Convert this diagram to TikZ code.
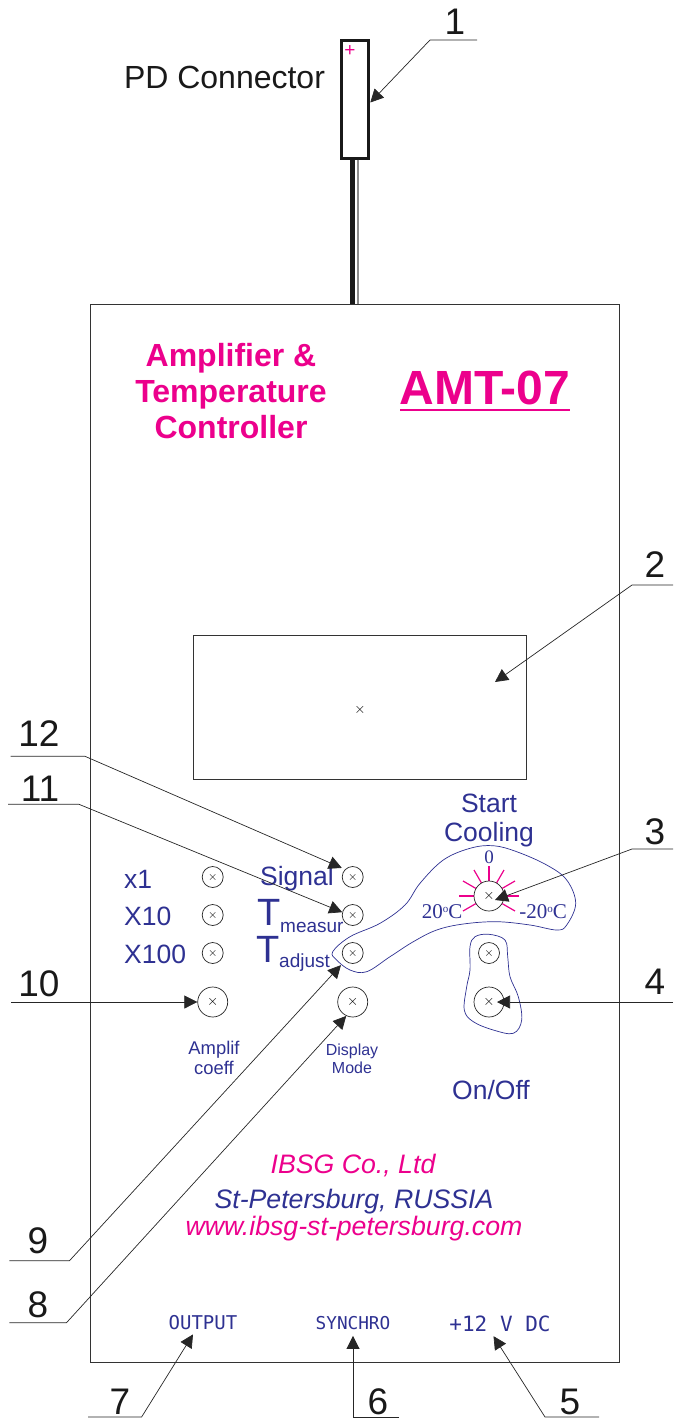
\documentclass[tikz,border=0pt]{standalone}
\usepackage{fontspec}
\setmainfont{Liberation Sans}
\newfontfamily\timesfont{Liberation Serif}
\newfontfamily\portfont{DejaVu Sans Mono}
\usetikzlibrary{arrows.meta, positioning}

\definecolor{panelblue}{HTML}{2E3192}
\definecolor{panelpink}{HTML}{EC008C}

\newcommand{\fsz}[1]{\fontsize{#1}{#1}\selectfont}
\newcommand{\degsign}{{\fsz{11}\raisebox{6pt}{o}}}

\tikzset{
    panelline/.style={draw=black!80, line width=0.9pt},
    leader/.style={draw=black!85, line width=0.7pt, -{Triangle[length=13pt,width=13pt]}},
    numlabel/.style={inner sep=0pt, text=black!90, font=\fsz{37}},
    bluetext/.style={inner sep=0pt, text=panelblue},
    pinktext/.style={inner sep=0pt, text=panelpink},
    knob/.style={circle, draw=black!85, line width=0.7pt, fill=white, inner sep=0pt, minimum size=30pt, font=\fsz{15}},
    smallknob/.style={knob, minimum size=21pt, font=\fsz{12}},
    blob/.style={draw=panelblue, line width=0.7pt},
    ray/.style={draw=panelpink, line width=1.2pt},
}

\begin{document}
\begin{tikzpicture}[x=1pt, y=-1pt]

\useasboundingbox (0,0) rectangle (673,1421);

% case and connector
\node[panelline, inner sep=0pt, minimum width=529pt, minimum height=1058pt] (panel) at (354.5,833) {};
\node[draw=black!90, line width=3pt, inner sep=0pt, minimum width=27pt, minimum height=117pt] (pdConn) at (355.3,99.5) {};
\node[pinktext, font=\fsz{19}] (pdPlus) at (350,51) {+};
\draw[black!90, line width=5pt] ([xshift=-3pt]pdConn.south) -- ([xshift=-3pt]pdConn.south |- panel.north);
\draw[black!45, line width=2pt] ([xshift=2.7pt]pdConn.south) -- ([xshift=2.7pt]pdConn.south |- panel.north);
\node[inner sep=0pt, text=black!90, font=\fsz{32}] (pdText) at (224.5,77) {PD Connector};

% titles
\node[pinktext, align=center, font=\bfseries\fontsize{32}{36}\selectfont] (titleText) at (231,391) {Amplifier \&\\Temperature\\Controller};
\node[pinktext, font=\bfseries\fsz{48}] (modelText) at (485,388) {AMT-07};
\draw[panelpink, line width=2pt] (400,410) -- (570,410);

% display
\node[panelline, inner sep=0pt, minimum width=333pt, minimum height=144pt] (display) at (359.5,707) {};
\node[inner sep=0pt, font=\fsz{15}] (displayCross) at (360,710) {$\times$};

% blue outlines
\draw[blob] plot[smooth cycle, tension=0.6] coordinates {
    (332.7,951.7) (350,936.7) (380,923.3) (405,905) (420,883.3) (443.3,860) (470,848.3) (493.3,845.7) (516.7,851.7)
    (546.7,865) (566.7,880) (575.7,903.3) (566.7,925) (556.7,930) (530,925) (496.7,921.7) (463.3,924) (436.7,930)
    (413.3,941.7) (390,956.7) (366.7,971.7) (350,970) (336.7,960)};
\draw[blob] plot[smooth cycle, tension=0.6] coordinates {
    (489,934.3) (505,940) (507.7,956.7) (510,976.7) (518.3,996.7) (521.7,1020) (513.3,1033.3) (493.3,1030) (473.3,1021.7)
    (464.3,1010) (466.7,986.7) (470,970) (470,946.7) (475,936.7)};

% rays of the cooling knob
\foreach \rayangle in {-30,0,30,60,90,120,150,180,210}
    \draw[ray] (489,896) ++(\rayangle:14pt) -- ++(\rayangle:16pt);

% knobs
\node[smallknob] (knobOne) at (212.7,877) {$\times$};
\node[smallknob] (knobTen) at (212.7,915) {$\times$};
\node[smallknob] (knobHundred) at (212.7,953) {$\times$};
\node[knob] (knobAmplif) at (212.7,1002) {$\times$};
\node[smallknob] (knobSignal) at (352.7,877) {$\times$};
\node[smallknob] (knobMeasur) at (352.7,915) {$\times$};
\node[smallknob] (knobAdjust) at (352.7,953) {$\times$};
\node[knob] (knobDisplay) at (352.7,1002) {$\times$};
\node[knob] (knobCool) at (489,896) {$\times$};
\node[smallknob] (knobLed) at (489,953) {$\times$};
\node[knob] (knobPower) at (489,1002) {$\times$};

% panel labels
\node[bluetext, align=center, font=\fontsize{26.5}{29}\selectfont] (coolText) at (489,820) {Start\\Cooling};
\node[bluetext, font=\timesfont\fsz{19}] (zeroText) at (489,857) {0};
\node[bluetext, font=\timesfont\fsz{21}] (plusText) at (442,912) {20\degsign C};
\node[bluetext, font=\timesfont\fsz{21}] (minusText) at (543,912) {-20\degsign C};
\node[bluetext, anchor=west, font=\fsz{26.5}] (oneText) at (124,879) {x1};
\node[bluetext, anchor=west, font=\fsz{26.5}] (tenText) at (124,916) {X10};
\node[bluetext, anchor=west, font=\fsz{26.5}] (hundredText) at (124,954) {X100};
\node[bluetext, font=\fsz{26.5}] (signalText) at (297,878.5) {Signal};
\node[bluetext, font=\fsz{38}] (measurT) at (269,912) {T};
\node[bluetext, anchor=west, font=\fsz{19}] (measurText) at (280,927) {measur};
\node[bluetext, font=\fsz{38}] (adjustT) at (268,949) {T};
\node[bluetext, anchor=west, font=\fsz{19}] (adjustText) at (279,963) {adjust};
\node[bluetext, align=center, font=\fontsize{18.4}{20}\selectfont] (amplifText) at (214,1058) {Amplif\\coeff};
\node[bluetext, align=center, font=\fontsize{16}{18}\selectfont] (displayText) at (352,1059) {Display\\Mode};
\node[bluetext, font=\fsz{26.5}] (powerText) at (491,1090) {On/Off};
\node[pinktext, font=\itshape\fsz{26.7}] (firmText) at (353,1166) {IBSG Co., Ltd};
\node[bluetext, font=\itshape\fsz{26.7}] (cityText) at (354,1202) {St-Petersburg, RUSSIA};
\node[pinktext, font=\itshape\fsz{26.7}] (webText) at (354,1229) {www.ibsg-st-petersburg.com};
\node[bluetext, font=\portfont\fsz{19}] (outputText) at (203,1323) {OUTPUT};
\node[bluetext, font=\portfont\fsz{17.7}] (synchroText) at (353,1323) {SYNCHRO};
\node[bluetext, font=\portfont\fsz{21}] (supplyText) at (500,1324) {+12 V DC};

% numbers
\node[numlabel] (numOne) at (455,22) {1};
\node[numlabel] (numTwo) at (655,565) {2};
\node[numlabel] (numThree) at (655,832) {3};
\node[numlabel] (numFour) at (655,982) {4};
\node[numlabel] (numFive) at (570,1402) {5};
\node[numlabel] (numSix) at (378,1402) {6};
\node[numlabel] (numSeven) at (120,1402) {7};
\node[numlabel] (numEight) at (38,1305) {8};
\node[numlabel] (numNine) at (38,1241) {9};
\node[numlabel] (numTen) at (39,984) {10};
\node[numlabel] (numEleven) at (40,789) {11};
\node[numlabel] (numTwelve) at (39,734) {12};

% free ends of the leaders
\coordinate (endOne) at (477,40);
\coordinate (elbowOne) at (430,40);
\coordinate (endTwo) at (673,585);
\coordinate (elbowTwo) at (632,585);
\coordinate (tipTwo) at (495,682);
\coordinate (endThree) at (673,849);
\coordinate (elbowThree) at (632,849);
\coordinate (tipThree) at (495,900);
\coordinate (endFour) at (673,1002);
\coordinate (endFive) at (599,1417);
\coordinate (elbowFive) at (545,1417);
\coordinate (endSix) at (399,1417);
\coordinate (elbowSix) at (353,1417);
\coordinate (endSeven) at (88,1417);
\coordinate (elbowSeven) at (141.6,1417);
\coordinate (endEight) at (9.4,1322.7);
\coordinate (elbowEight) at (66.5,1322.7);
\coordinate (endNine) at (9.4,1260.7);
\coordinate (elbowNine) at (69.5,1260.7);
\coordinate (endTen) at (11,1002);
\coordinate (endEleven) at (8,804.3);
\coordinate (elbowEleven) at (79,804.3);
\coordinate (endTwelve) at (10.7,756.3);
\coordinate (elbowTwelve) at (85,756.3);

% leaders
\draw[leader] (endOne) -- (elbowOne) -- ([yshift=-3pt]pdConn.east);
\draw[leader] (endTwo) -- (elbowTwo) -- (tipTwo);
\draw[leader] (endThree) -- (elbowThree) -- (tipThree);
\draw[leader, shorten >=8pt] (endFour) -- (knobPower.center);
\draw[leader] (endFive) -- (elbowFive) -- ([xshift=-6.5pt,yshift=-4pt]supplyText.south);
\draw[leader] (endSix) -- (elbowSix) -- ([yshift=-6pt]synchroText.south);
\draw[leader] (endSeven) -- (elbowSeven) -- ([xshift=-10pt,yshift=-4pt]outputText.south);
\draw[leader] (endEight) -- (elbowEight) -- (knobDisplay.245);
\draw[leader, shorten >=6pt] (endNine) -- (elbowNine) -- (knobAdjust.225);
\draw[leader] (endTen) -- (knobAmplif.west);
\draw[leader] (endEleven) -- (elbowEleven) -- (knobMeasur.165);
\draw[leader, shorten >=3.5pt] (endTwelve) -- (elbowTwelve) -- (knobSignal.135);

\end{tikzpicture}
\end{document}
